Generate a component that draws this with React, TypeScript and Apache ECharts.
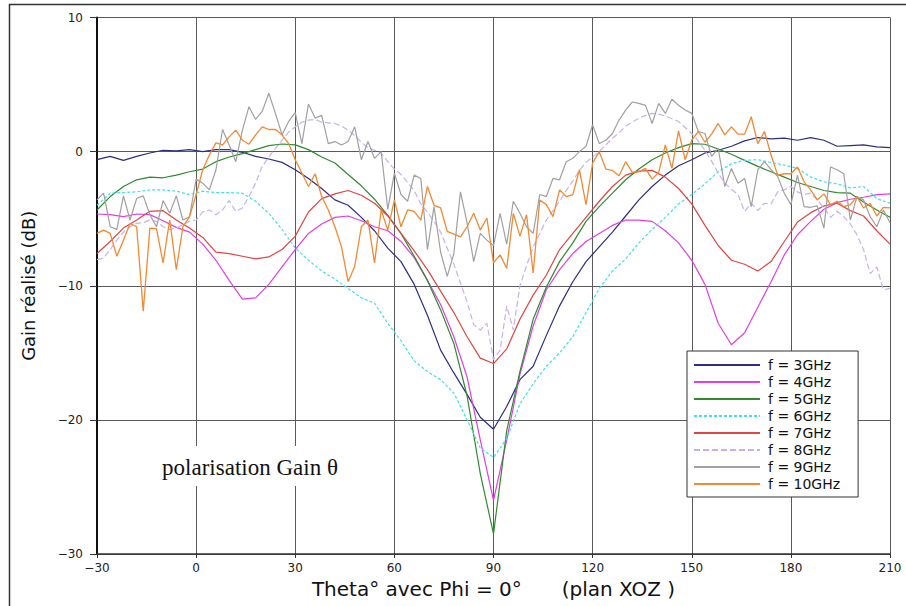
import React, { useEffect, useRef } from 'react';
import * as echarts from 'echarts';

// Sampling grids of the measured angle theta (degrees)
const THETA_4 = Array.from({ length: 61 }, (_, i) => -30 + 4 * i);
const THETA_2 = Array.from({ length: 121 }, (_, i) => -30 + 2 * i);

const X_TICKS = [-30, 0, 30, 60, 90, 120, 150, 180, 210];
const Y_TICKS = [-30, -20, -10, 0, 10];

const LEGEND_LABELS = ['f = 3GHz', 'f = 4GHz', 'f = 5GHz', 'f = 6GHz', 'f = 7GHz', 'f = 8GHz', 'f = 9GHz', 'f = 10GHz'];
const SERIES_COLORS = ['#2e2e80', '#e040e0', '#2f8a2f', '#40e0e8', '#e04545', '#c8b0f0', '#a0a0a0', '#f08a35'];

// Gain values (dB), 4 degree step
const GAIN_3GHZ = [
  -0.6, -0.35, -0.65, -0.35, -0.1, 0.1, 0.05, 0.15, 0.0, 0.15,
  0.15, -0.05, -0.35, -0.55, -0.8, -1.35, -2.0, -2.75, -3.6, -4.0,
  -4.9, -5.9, -7.2, -8.2, -9.9, -12.2, -14.8, -16.5, -18.1, -19.8,
  -20.7, -19.0, -17.0, -16.0, -13.7, -11.5, -9.7, -8.2, -7.1, -6.0,
  -4.8, -3.6, -2.6, -1.75, -1.05, -0.6, -0.1, 0.1, 0.4, 0.8,
  1.05, 0.95, 1.0, 0.85, 1.05, 0.85, 0.4, 0.45, 0.5, 0.35,
  0.3,
];
const GAIN_4GHZ = [
  -4.65, -4.7, -4.85, -4.65, -4.7, -5.15, -5.65, -6.0, -6.9, -8.1,
  -9.6, -11.0, -10.9, -9.9, -8.6, -7.3, -6.1, -5.4, -4.9, -4.8,
  -5.15, -5.6, -5.9, -6.7, -7.9, -9.6, -11.4, -13.8, -16.8, -21.5,
  -26.0, -21.5, -16.6, -13.0, -10.3, -8.8, -7.6, -6.7, -6.1, -5.5,
  -5.1, -5.1, -5.2, -5.9, -6.8, -8.1, -9.9, -12.8, -14.4, -13.5,
  -11.6, -9.7, -7.7, -6.2, -5.2, -4.3, -3.8, -3.55, -3.4, -3.2,
  -3.15,
];
const GAIN_5GHZ = [
  -4.35, -3.35, -2.6, -2.1, -1.9, -1.95, -1.75, -1.5, -1.3, -0.75,
  -0.4, -0.15, 0.15, 0.45, 0.57, 0.5, 0.15, -0.4, -0.85, -1.7,
  -2.55, -3.55, -4.75, -6.1, -7.8, -9.6, -11.8, -14.3, -18.2, -24.0,
  -28.5, -20.8, -16.4, -12.5, -10.1, -8.2, -6.8, -5.2, -4.1, -3.1,
  -2.1, -1.3, -0.6, -0.1, 0.3, 0.6, 0.55, 0.2, -0.2, -0.65,
  -1.1, -1.5, -1.9, -2.3, -2.6, -2.9, -3.05, -3.1, -3.75, -4.35,
  -4.9,
];
const GAIN_6GHZ = [
  -4.0, -3.1, -3.05, -3.0, -2.85, -2.85, -2.95, -3.2, -2.95, -3.05,
  -3.05, -3.1, -3.7, -4.6, -5.8, -7.2, -8.1, -8.9, -9.5, -10.2,
  -10.9, -11.3, -12.8, -14.1, -15.6, -16.4, -17.0, -18.0, -20.0, -22.1,
  -22.8, -21.4, -18.8, -17.3, -16.0, -15.0, -13.8, -12.0, -10.2, -8.9,
  -8.0, -6.8, -5.8, -4.9, -3.9, -3.2, -2.4, -1.5, -0.9, -0.65,
  -0.6, -0.8, -1.0, -1.25, -1.9, -2.25, -2.4, -2.7, -2.6, -3.5,
  -3.85,
];
const GAIN_7GHZ = [
  -7.6, -6.7, -5.7, -5.1, -4.45, -4.4, -5.1, -5.7, -6.4, -7.5,
  -7.6, -7.8, -8.0, -7.85, -7.3, -6.3, -4.5, -3.5, -3.15, -2.9,
  -3.25, -3.85, -4.8, -6.1, -7.4, -8.8, -10.4, -12.0, -13.8, -15.4,
  -15.8, -14.7, -12.5, -10.7, -9.2, -7.3, -6.1, -4.9, -3.7, -2.6,
  -1.75, -1.45, -1.4, -1.9, -2.75, -3.9, -5.5, -7.0, -8.1, -8.4,
  -8.9, -8.2, -6.7, -5.25, -4.55, -4.05, -3.85, -4.4, -4.8, -5.9,
  -6.9,
];
// Gain values (dB), 2 degree step
const GAIN_8GHZ = [
  -8.05, -7.95, -7.3, -6.6, -6.0, -5.6, -5.35, -5.3, -5.1, -5.2,
  -5.6, -5.8, -5.7, -5.45, -5.2, -5.1, -4.5, -4.35, -4.7, -4.35,
  -3.65, -4.45, -4.2, -3.35, -2.35, -1.1, -0.4, 0.25, 0.85, 1.45,
  1.85, 2.2, 2.35, 2.4, 2.2, 2.15, 2.1, 1.9, 1.6, 1.2,
  0.7, 0.3, 0.1, -0.1, -0.75, -1.3, -1.7, -2.3, -2.9, -3.9,
  -4.5, -5.2, -6.0, -7.2, -8.4, -9.8, -11.2, -12.9, -13.3, -12.8,
  -15.5, -14.8, -11.5, -13.3, -10.0, -8.5, -7.1, -6.1, -5.1, -4.4,
  -3.7, -2.9, -2.2, -1.4, -0.8, -0.4, 0.0, 0.5, 1.0, 1.4,
  1.9, 2.2, 2.5, 2.7, 2.85, 2.8, 2.65, 2.45, 2.25, 1.8,
  1.35, 0.8, 0.1, -0.7, -1.6, -2.35, -2.8, -3.2, -4.45, -3.85,
  -4.4, -3.85, -3.9, -3.0, -2.85, -2.6, -3.0, -3.2, -3.1, -3.6,
  -4.2, -4.9, -4.45, -4.85, -5.4, -6.2, -7.3, -9.1, -8.6, -10.3,
  -10.2,
];
const GAIN_9GHZ = [
  -3.6, -3.1, -5.6, -5.8, -3.3, -5.1, -3.5, -3.3, -4.7, -5.6,
  -3.65, -4.6, -3.3, -5.1, -4.85, -2.05, -2.35, -2.85, -1.35, 1.65,
  0.5, -0.75, 1.6, 3.35, 2.4, 3.0, 4.35, 2.85, 1.25, 2.25,
  2.9, 0.6, 3.55, 2.5, 2.7, 0.6, 0.75, 0.5, 0.75, 1.85,
  -0.6, 0.75, -0.5, 0.0, -4.3, -1.6, -3.2, -3.7, -1.75, -2.0,
  -7.3, -4.1, -7.5, -9.3, -7.6, -3.0, -5.3, -8.2, -6.1, -6.6,
  -7.0, -4.6, -6.9, -3.7, -4.6, -5.6, -6.1, -3.2, -3.35, -2.0,
  -2.1, -0.75, -0.5, 0.0, 0.4, 2.0, 0.6, 0.85, 1.35, 2.35,
  3.1, 3.7, 3.6, 3.45, 2.1, 3.6, 2.85, 3.9, 3.45, 3.1,
  2.85, 1.5, 1.35, -0.35, 0.25, -2.6, -1.25, -2.35, -2.0, -4.1,
  -1.35, -0.75, -1.35, -1.85, -3.1, -3.95, -1.75, -4.1, -4.15, -4.05,
  -5.7, -1.15, -1.35, -1.65, -5.1, -3.35, -3.6, -4.85, -5.6, -4.35,
  -5.3,
];
const GAIN_10GHZ = [
  -6.1, -5.85, -6.1, -7.8, -6.6, -5.35, -5.6, -11.9, -5.7, -5.75,
  -8.3, -5.1, -8.8, -5.6, -4.85, -3.2, -1.35, -0.25, 0.65, 0.5,
  1.1, 1.6, 0.85, 0.55, 1.25, 1.85, 1.65, 1.65, 1.25, 0.6,
  -0.6, -1.6, -2.6, -1.65, -3.35, -4.35, -5.6, -7.1, -9.7, -8.55,
  -5.6, -5.1, -8.3, -4.35, -5.85, -3.6, -5.6, -4.35, -4.45, -5.1,
  -2.6, -4.0, -4.2, -5.95, -6.15, -6.35, -5.6, -4.6, -5.85, -4.95,
  -8.3, -7.7, -8.7, -4.6, -6.3, -4.7, -9.05, -3.6, -3.95, -4.85,
  -2.85, -3.35, -3.2, -1.35, -3.95, -0.85, 0.0, -1.3, -1.4, -1.8,
  -0.75, -1.55, -1.5, -1.25, -2.05, -1.55, 0.5, -1.25, 1.55, -0.6,
  0.85, 1.5, 0.7, 1.3, 2.1, 1.25, 1.85, 1.3, 1.3, 2.6,
  0.6, 1.5, -0.25, -1.75, -1.65, -1.65, -1.15, -2.25, -2.85, -3.6,
  -3.15, -3.95, -3.7, -4.1, -3.95, -3.35, -4.2, -3.85, -4.8, -4.15,
  -4.2,
];

const pairs = (thetas: number[], values: number[]) => thetas.map((t, i) => [t, values[i]]);
const fmt = (v: number) => (v < 0 ? '\u2212' + Math.abs(v) : String(v));

export default function App() {
  const ref = useRef<HTMLDivElement>(null);
  useEffect(() => {
    if (!ref.current) return;
    const chart = echarts.init(ref.current, undefined, { renderer: 'svg' });
    const seriesDefs = [
      { thetas: THETA_4, values: GAIN_3GHZ, dash: 'solid' as any, width: 1.2 },
      { thetas: THETA_4, values: GAIN_4GHZ, dash: 'solid' as any, width: 1.2 },
      { thetas: THETA_4, values: GAIN_5GHZ, dash: 'solid' as any, width: 1.2 },
      { thetas: THETA_4, values: GAIN_6GHZ, dash: [3, 2] as any, width: 1.2 },
      { thetas: THETA_4, values: GAIN_7GHZ, dash: 'solid' as any, width: 1.2 },
      { thetas: THETA_2, values: GAIN_8GHZ, dash: [6, 3] as any, width: 1.2 },
      { thetas: THETA_2, values: GAIN_9GHZ, dash: 'solid' as any, width: 1.2 },
      { thetas: THETA_2, values: GAIN_10GHZ, dash: 'solid' as any, width: 1.3 },
    ];
    const series = seriesDefs.map((d, i) => ({
      name: LEGEND_LABELS[i],
      type: 'line',
      data: pairs(d.thetas, d.values),
      symbol: 'none',
      showSymbol: false,
      color: SERIES_COLORS[i],
      lineStyle: { color: SERIES_COLORS[i], width: d.width, type: d.dash },
      z: 3,
    }));
    chart.setOption({
      animation: false,
      backgroundColor: '#ffffff',
      textStyle: { fontFamily: 'DejaVu Sans' },
      grid: { left: 97, right: 16, top: 17.5, bottom: 52, containLabel: false, outerBoundsMode: 'none' },
      xAxis: {
        type: 'value',
        min: X_TICKS[0],
        max: X_TICKS[X_TICKS.length - 1],
        interval: 30,
        axisLine: { show: true, onZero: false, lineStyle: { color: '#333', width: 1.5 } },
        axisTick: { show: true, length: 4, lineStyle: { color: '#333' } },
        axisLabel: { margin: 8, fontSize: 12, color: '#222', fontFamily: 'DejaVu Sans', formatter: fmt },
        splitLine: { show: true, lineStyle: { color: '#5a5a5a', width: 1 } },
        name: '{a|Theta° avec Phi = 0°}{b|(plan XOZ )}',
        nameLocation: 'middle',
        nameGap: 24,
        nameTextStyle: {
          rich: {
            a: { fontSize: 20, fontFamily: 'DejaVu Sans', color: '#111' },
            b: { fontSize: 20, fontFamily: 'DejaVu Sans', color: '#111', padding: [0, 0, 0, 40] },
          },
        },
      },
      yAxis: {
        type: 'value',
        min: Y_TICKS[0],
        max: Y_TICKS[Y_TICKS.length - 1],
        interval: 10,
        axisLine: { show: true, onZero: false, lineStyle: { color: '#111', width: 2 } },
        axisTick: { show: true, length: 7, lineStyle: { color: '#333' } },
        axisLabel: { margin: 14, fontSize: 12, color: '#222', fontFamily: 'DejaVu Sans', formatter: fmt },
        splitLine: { show: true, lineStyle: { color: '#5a5a5a', width: 1 } },
        name: 'Gain réalisé (dB)',
        nameLocation: 'middle',
        nameGap: 60,
        nameTextStyle: { fontSize: 18, fontFamily: 'DejaVu Sans', color: '#111' },
      },
      legend: {
        orient: 'vertical',
        left: 687,
        top: 351,
        itemWidth: 66,
        itemHeight: 14,
        itemGap: 3,
        padding: [7, 18, 6, 6],
        backgroundColor: '#ffffff',
        borderColor: '#333',
        borderWidth: 1,
        borderRadius: 0,
        itemStyle: { opacity: 0, borderWidth: 0 },
        textStyle: { fontSize: 14, color: '#111', fontFamily: 'DejaVu Sans', padding: [0, 0, 0, 3] },
        data: LEGEND_LABELS,
      },
      graphic: [
        {
          type: 'rect',
          silent: true,
          z: 100,
          shape: { x: 9.5, y: 4.5, width: 940, height: 640 },
          style: { fill: 'none', stroke: '#333', lineWidth: 1.5 },
        },
        {
          type: 'rect',
          silent: true,
          z: 10,
          shape: { x: 150, y: 446, width: 200, height: 40 },
          style: { fill: '#ffffff' },
        },
        {
          type: 'text',
          silent: true,
          z: 11,
          x: 250,
          y: 467,
          style: {
            text: 'polarisation Gain θ',
            font: '23px "Liberation Serif"',
            fill: '#111',
            align: 'center',
            verticalAlign: 'middle',
            textAlign: 'center',
            textVerticalAlign: 'middle',
          },
        },
      ],
      series,
    });
    return () => chart.dispose();
  }, []);
  return <div ref={ref} style={{ position: 'absolute', left: 0, top: 0, width: 906, height: 606 }} />;
}
